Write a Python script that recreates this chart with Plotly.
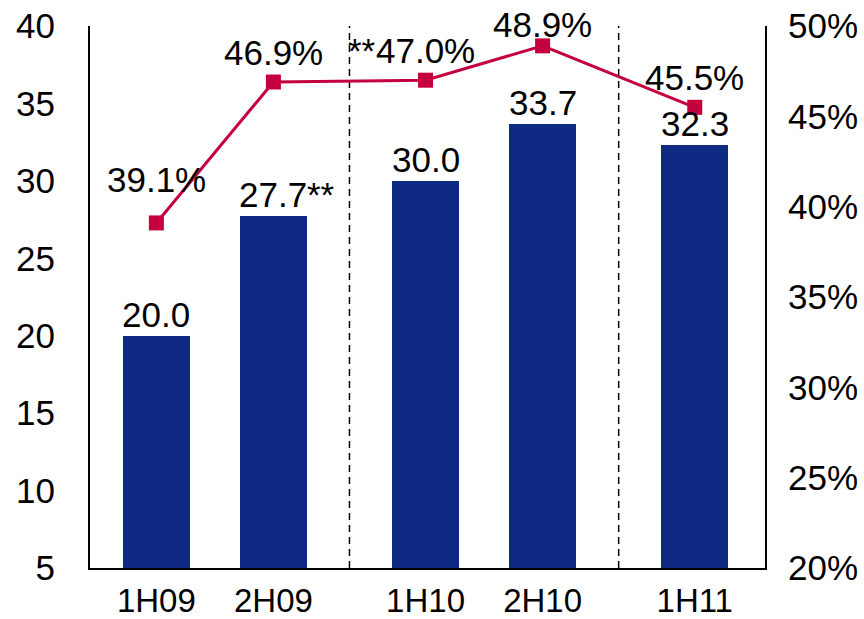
import plotly.graph_objects as go

# Half-year periods, grouped by fiscal year
periods = ["1H09", "2H09", "1H10", "2H10", "1H11"]
years = ["09", "09", "10", "10", "11"]
revenue = [20.0, 27.7, 30.0, 33.7, 32.3]
margin_pct = [39.1, 46.9, 47.0, 48.9, 45.5]
revenue_notes = ["", "**", "", "", ""]
margin_notes = ["", "", "**", "", ""]

left_ticks = [5, 10, 15, 20, 25, 30, 35, 40]
right_ticks = [20, 25, 30, 35, 40, 45, 50]

BAR = "#0F2A83"
LINE = "#C4003F"
FONT = "Liberation Sans, Arial, sans-serif"
FS = 35

# x positions: tighter spacing inside a year, wider between years
STEP_IN, STEP_GAP, FIRST = 1.746, 2.27, 0.99
xpos = [FIRST]
for i in range(1, len(periods)):
    xpos.append(xpos[-1] + (STEP_IN if years[i] == years[i - 1] else STEP_GAP))
dividers = [(xpos[i - 1] + xpos[i]) / 2 for i in range(1, len(periods)) if years[i] != years[i - 1]]

fig = go.Figure()
fig.add_trace(go.Bar(x=xpos, y=revenue, width=1.0, marker=dict(color=BAR, line=dict(width=0)),
                     hoverinfo="skip", showlegend=False))
fig.add_trace(go.Scatter(x=xpos, y=margin_pct, yaxis="y2", mode="lines+markers",
                         line=dict(color=LINE, width=3),
                         marker=dict(symbol="square", size=15, color=LINE),
                         showlegend=False))

ann = []
# value labels above bars
for x, v, note in zip(xpos, revenue, revenue_notes):
    ann.append(dict(x=x, y=v, xref="x", yref="y", text=f"{v:.1f}", showarrow=False,
                    xanchor="center", yanchor="bottom", yshift=0,
                    font=dict(size=FS, color="black", family=FONT)))
    if note:
        ann.append(dict(x=x, y=v, xref="x", yref="y", text=note, showarrow=False,
                        xanchor="left", yanchor="bottom", yshift=0, xshift=32,
                        font=dict(size=FS, color="black", family=FONT)))
# percentage labels above line markers
lift = [22, 8, 8, 0, 8]
for x, v, note, dy in zip(xpos, margin_pct, margin_notes, lift):
    ann.append(dict(x=x, y=v, xref="x", yref="y2", text=f"{v:.1f}%", showarrow=False,
                    xanchor="center", yanchor="bottom", yshift=dy,
                    font=dict(size=FS, color="black", family=FONT)))
    if note:
        ann.append(dict(x=x, y=v, xref="x", yref="y2", text=note, showarrow=False,
                        xanchor="right", yanchor="bottom", yshift=dy, xshift=-48,
                        font=dict(size=FS, color="black", family=FONT)))

shapes = [dict(type="line", xref="x", yref="paper", x0=d, x1=d, y0=0, y1=1,
               line=dict(color="black", width=1.5, dash="7px,5px"), layer="below")
          for d in dividers]

fig.update_layout(
    width=864, height=619,
    margin=dict(l=90, r=99, t=26, b=51, autoexpand=False),
    paper_bgcolor="white", plot_bgcolor="white",
    font=dict(family=FONT, size=FS, color="black"),
    bargap=0,
    xaxis=dict(range=[0, 10.07], tickvals=xpos, ticktext=periods, showgrid=False,
               zeroline=False, showline=True, linecolor="black", linewidth=2,
               ticks="", ticklabelstandoff=2, automargin=False, tickfont=dict(size=33)),
    yaxis=dict(range=[5, 40], tickvals=left_ticks, showgrid=False, zeroline=False,
               showline=True, linecolor="black", linewidth=2, ticks="",
               ticklabelstandoff=26, automargin=False, tickfont=dict(size=FS)),
    yaxis2=dict(range=[20, 50], tickvals=right_ticks,
                ticktext=[f"{t}%" for t in right_ticks], overlaying="y",
                side="right", showgrid=False, zeroline=False, showline=True,
                linecolor="black", linewidth=2, ticks="", ticklabelstandoff=14,
                automargin=False, tickfont=dict(size=FS)),
    annotations=ann,
    shapes=shapes,
)

fig.write_html("out.html")
